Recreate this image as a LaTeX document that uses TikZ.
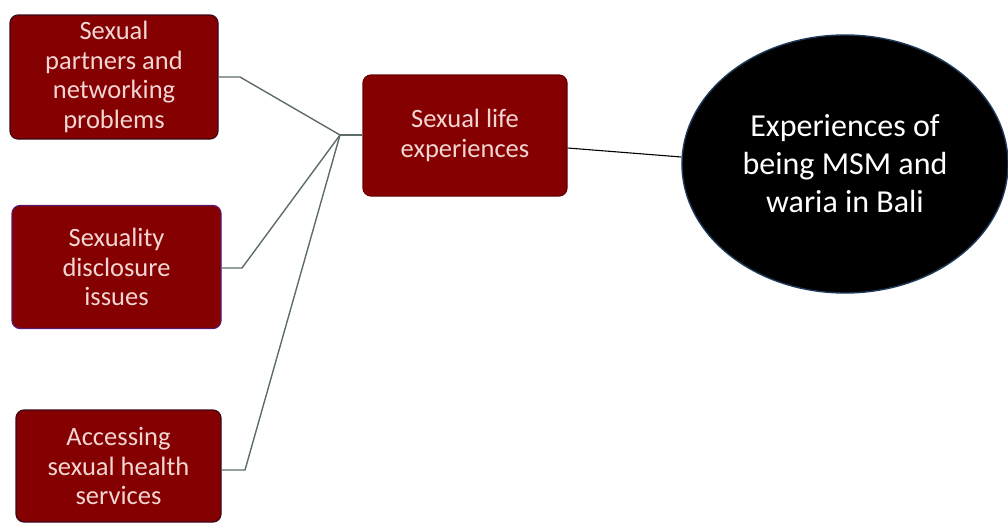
\documentclass[tikz,border=0pt]{standalone}
\usepackage{fontspec}
\setmainfont{Carlito}
\usetikzlibrary{shapes.geometric}
\begin{document}
\begin{tikzpicture}[x=1pt,y=-1pt,
  theme/.style={draw=#1, line width=1.2pt, fill=boxred, rounded corners=8pt,
    text=boxtext, align=center, inner sep=0pt,
    font=\fontsize{26.5}{29.5}\selectfont},
  link/.style={draw=linkgray, line width=1.4pt},
  mainlink/.style={draw=black, line width=1.1pt}]
\definecolor{boxred}{HTML}{850000}
\definecolor{boxtext}{HTML}{F3D6D3}
\definecolor{linkgray}{HTML}{5E6B6B}
\definecolor{rimblue}{HTML}{1F3A5A}
\definecolor{rimdark}{HTML}{3A0A1A}
\definecolor{rimpurple}{HTML}{5A1A70}
\useasboundingbox (0,0) rectangle (1008,525);
% theme boxes
\node[theme=rimdark, minimum width=208pt, minimum height=124pt] (partners) at (114,77)
  {Sexual\\partners and\\networking\\problems};
\node[theme=rimpurple, minimum width=209pt, minimum height=123pt] (disclosure) at (116.5,267)
  {Sexuality\\disclosure\\issues};
\node[theme=rimdark, minimum width=205pt, minimum height=112pt] (services) at (118.5,466)
  {Accessing\\sexual health\\services};
\node[theme=boxred!80!black, minimum width=204pt, minimum height=121pt] (life) at (465,135.5)
  {Sexual life\\experiences};
% central theme
\node[ellipse, draw=rimblue, line width=1.4pt, fill=black, text=white, align=center,
  minimum width=326pt, minimum height=258pt, inner sep=0pt,
  font=\fontsize{32}{38}\selectfont] (core) at (845,164)
  {Experiences of\\being MSM and\\waria in Bali};
% connectors
\coordinate (hub) at (340,135);
\coordinate (k1) at (240,77);
\coordinate (k2) at (242,268);
\coordinate (k3) at (245,470);
\draw[link] (partners.east |- k1) -- (k1) -- (hub);
\draw[link] (disclosure.east |- k2) -- (k2) -- (hub);
\draw[link] (services.east |- k3) -- (k3) -- (hub);
\draw[link] (hub) -- (life.west |- hub);
\draw[mainlink] (life.east |- 0,148) -- (core.west |- 0,157);
\end{tikzpicture}
\end{document}
